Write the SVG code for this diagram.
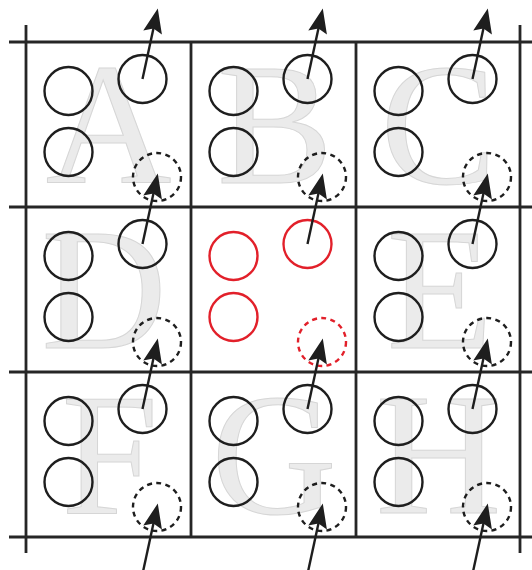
<svg xmlns="http://www.w3.org/2000/svg" width="532" height="570" viewBox="0 0 532 570">
<style>
.grid{stroke:#262626;stroke-width:2.8;fill:none}
.c{fill:none;stroke:#1e1e1e;stroke-width:2.4}
.d{fill:none;stroke:#1e1e1e;stroke-width:2.4;stroke-dasharray:5 4.3}
.r{fill:none;stroke:#e2202a;stroke-width:2.4}
.rd{fill:none;stroke:#e2202a;stroke-width:2.4;stroke-dasharray:5 4.3}
.L{font-family:"Liberation Serif",serif;font-size:174px;fill:#ebebeb;stroke:#d6d6d6;stroke-width:1;text-anchor:middle}
.a{stroke:#1e1e1e;stroke-width:2.4;fill:none;marker-end:url(#ah)}
</style>
<defs>
<marker id="ah" markerUnits="userSpaceOnUse" markerWidth="30" markerHeight="30" viewBox="-10 -10 22 20" refX="0" refY="0" orient="auto">
<path d="M10,0 L-8,-7 L-5,0 L-8,7 z" fill="#1e1e1e"/>
</marker>
</defs>
<g id="grid">
<line class="grid" x1="9" y1="42" x2="532" y2="42"/>
<line class="grid" x1="9" y1="207" x2="532" y2="207"/>
<line class="grid" x1="9" y1="372" x2="532" y2="372"/>
<line class="grid" x1="9" y1="537" x2="532" y2="537"/>
<line class="grid" x1="26" y1="25" x2="26" y2="553"/>
<line class="grid" x1="520" y1="25" x2="520" y2="553"/>
<line class="grid" x1="191" y1="42" x2="191" y2="537"/>
<line class="grid" x1="356" y1="42" x2="356" y2="537"/>
</g>
<g id="letters">
<text class="L" x="108.5" y="183">A</text>
<text class="L" x="275" y="183">B</text>
<text class="L" x="438.5" y="183">C</text>
<text class="L" x="104" y="348">D</text>
<text class="L" x="440" y="348">E</text>
<text class="L" x="110" y="513">F</text>
<text class="L" x="274" y="513">G</text>
<text class="L" x="438.5" y="513">H</text>
</g>
<g id="cellA" transform="translate(26,42)"><circle class="c" cx="42.5" cy="49" r="24"/><circle class="c" cx="42.5" cy="110" r="24"/><circle class="c" cx="116.5" cy="37" r="24"/><circle class="d" cx="131" cy="135" r="24"/></g>
<g id="cellB" transform="translate(191,42)"><circle class="c" cx="42.5" cy="49" r="24"/><circle class="c" cx="42.5" cy="110" r="24"/><circle class="c" cx="116.5" cy="37" r="24"/><circle class="d" cx="131" cy="135" r="24"/></g>
<g id="cellC" transform="translate(356,42)"><circle class="c" cx="42.5" cy="49" r="24"/><circle class="c" cx="42.5" cy="110" r="24"/><circle class="c" cx="116.5" cy="37" r="24"/><circle class="d" cx="131" cy="135" r="24"/></g>
<g id="cellD" transform="translate(26,207)"><circle class="c" cx="42.5" cy="49" r="24"/><circle class="c" cx="42.5" cy="110" r="24"/><circle class="c" cx="116.5" cy="37" r="24"/><circle class="d" cx="131" cy="135" r="24"/></g>
<g id="cellCenter" transform="translate(191,207)"><circle class="r" cx="42.5" cy="49" r="24"/><circle class="r" cx="42.5" cy="110" r="24"/><circle class="r" cx="116.5" cy="37" r="24"/><circle class="rd" cx="131" cy="135" r="24"/></g>
<g id="cellE" transform="translate(356,207)"><circle class="c" cx="42.5" cy="49" r="24"/><circle class="c" cx="42.5" cy="110" r="24"/><circle class="c" cx="116.5" cy="37" r="24"/><circle class="d" cx="131" cy="135" r="24"/></g>
<g id="cellF" transform="translate(26,372)"><circle class="c" cx="42.5" cy="49" r="24"/><circle class="c" cx="42.5" cy="110" r="24"/><circle class="c" cx="116.5" cy="37" r="24"/><circle class="d" cx="131" cy="135" r="24"/></g>
<g id="cellG" transform="translate(191,372)"><circle class="c" cx="42.5" cy="49" r="24"/><circle class="c" cx="42.5" cy="110" r="24"/><circle class="c" cx="116.5" cy="37" r="24"/><circle class="d" cx="131" cy="135" r="24"/></g>
<g id="cellH" transform="translate(356,372)"><circle class="c" cx="42.5" cy="49" r="24"/><circle class="c" cx="42.5" cy="110" r="24"/><circle class="c" cx="116.5" cy="37" r="24"/><circle class="d" cx="131" cy="135" r="24"/></g>
<g id="connectors">
<line class="a" x1="142.5" y1="79" x2="154.9" y2="21.8"/>
<line class="a" x1="307.5" y1="79" x2="319.9" y2="21.8"/>
<line class="a" x1="472.5" y1="79" x2="484.9" y2="21.8"/>
<line class="a" x1="142.5" y1="244" x2="154.9" y2="186.8"/>
<line class="a" x1="307.5" y1="244" x2="319.9" y2="186.8"/>
<line class="a" x1="472.5" y1="244" x2="484.9" y2="186.8"/>
<line class="a" x1="142.5" y1="409" x2="154.9" y2="351.8"/>
<line class="a" x1="307.5" y1="409" x2="319.9" y2="351.8"/>
<line class="a" x1="472.5" y1="409" x2="484.9" y2="351.8"/>
<line class="a" x1="142.5" y1="574" x2="154.9" y2="516.8"/>
<line class="a" x1="307.5" y1="574" x2="319.9" y2="516.8"/>
<line class="a" x1="472.5" y1="574" x2="484.9" y2="516.8"/>
</g>
</svg>
